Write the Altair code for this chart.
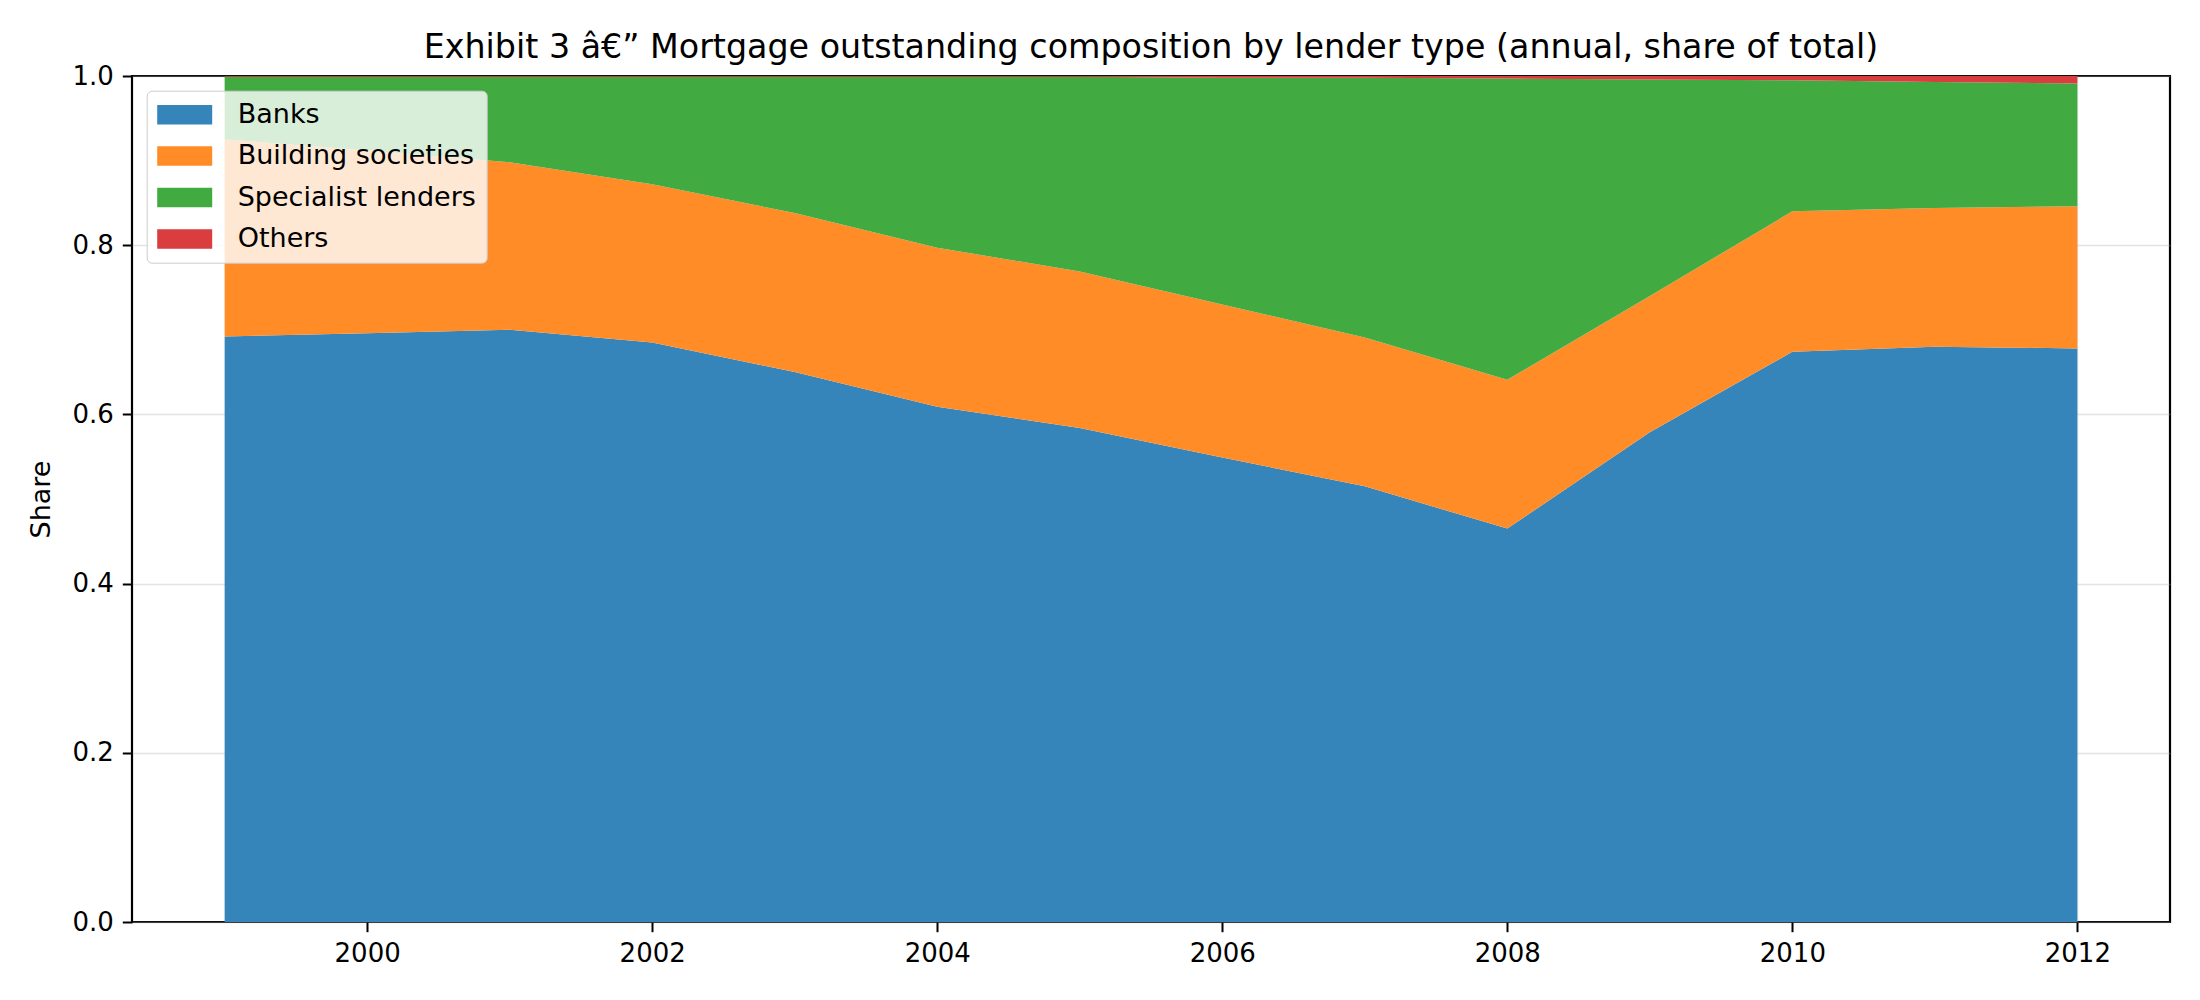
import altair as alt
import pandas as pd

years = [1999, 2000, 2001, 2002, 2003, 2004, 2005, 2006, 2007, 2008, 2009, 2010, 2011, 2012]
banks = [0.692, 0.696, 0.700, 0.685, 0.650, 0.609, 0.584, 0.549, 0.515, 0.465, 0.579, 0.674, 0.680, 0.678]
building_societies = [0.233, 0.216, 0.198, 0.187, 0.188, 0.188, 0.185, 0.181, 0.176, 0.176, 0.161, 0.166, 0.164, 0.168]
specialist_lenders = [0.074, 0.087, 0.101, 0.127, 0.161, 0.202, 0.230, 0.268, 0.307, 0.356, 0.256, 0.155, 0.149, 0.145]
others = [0.001, 0.001, 0.001, 0.001, 0.001, 0.001, 0.001, 0.002, 0.002, 0.003, 0.004, 0.005, 0.007, 0.009]

series_names = ["Banks", "Building societies", "Specialist lenders", "Others"]
series_values = [banks, building_societies, specialist_lenders, others]
series_colors = ["#3585bb", "#ff8c26", "#41aa41", "#da3d3e"]

rows = []
for idx, (name, vals) in enumerate(zip(series_names, series_values)):
    for yr, v in zip(years, vals):
        rows.append({"year": yr, "series": name, "share": v, "order": idx})
df = pd.DataFrame(rows)

FONT = "DejaVu Sans"

chart = alt.Chart(df).mark_area(interpolate="linear", opacity=1).encode(
    x=alt.X("year:Q",
            scale=alt.Scale(domain=[1998.35, 2012.65], nice=False, zero=False),
            axis=alt.Axis(values=[2000, 2002, 2004, 2006, 2008, 2010, 2012], format="d",
                          title=None)),
    y=alt.Y("share:Q", stack="zero",
            scale=alt.Scale(domain=[0, 1], nice=False),
            axis=alt.Axis(values=[0, 0.2, 0.4, 0.6, 0.8, 1.0], format=".1f", title="Share",
                          titlePadding=16)),
    color=alt.Color("series:N",
                    scale=alt.Scale(domain=series_names, range=series_colors),
                    legend=alt.Legend(title=None, orient="none", legendX=14.7, legendY=14.7,
                                      symbolType="M-2,-0.71L2,-0.71L2,0.71L-2,0.71Z",
                                      symbolSize=756, symbolStrokeWidth=0, symbolOpacity=1,
                                      symbolOffset=14,
                                      labelFontSize=27, labelFont=FONT, labelColor="black",
                                      labelLimit=0,
                                      labelOffset=39, rowPadding=14.4, padding=10,
                                      fillColor="rgba(255,255,255,0.8)", strokeColor="#cccccc",
                                      cornerRadius=5)),
    order=alt.Order("order:Q", sort="ascending"),
).properties(
    width=2038,
    height=846,
    title=alt.TitleParams(
        "Exhibit 3 \u00e2\u20ac\u201d Mortgage outstanding composition by lender type (annual, share of total)",
        fontSize=33.3, font=FONT, fontWeight="normal", color="black", anchor="middle",
        baseline="alphabetic", offset=12, dy=40),
    padding={"left": 132, "top": 76, "right": 30, "bottom": 78},
    autosize=alt.AutoSizeParams(type="none"),
    background="white",
).configure_view(
    stroke="black", strokeWidth=2.2
).configure_axis(
    labelFont=FONT, labelFontSize=26, labelColor="black",
    titleFont=FONT, titleFontSize=27, titleFontWeight="normal", titleColor="black",
    tickColor="black", tickSize=9.7, tickWidth=2, labelPadding=9,
    domain=False, grid=True, gridColor="#b0b0b0", gridOpacity=0.35, gridWidth=1.4,
    zindex=1,
)

chart.save("out.html", embed_options={"renderer": "svg", "actions": False})
